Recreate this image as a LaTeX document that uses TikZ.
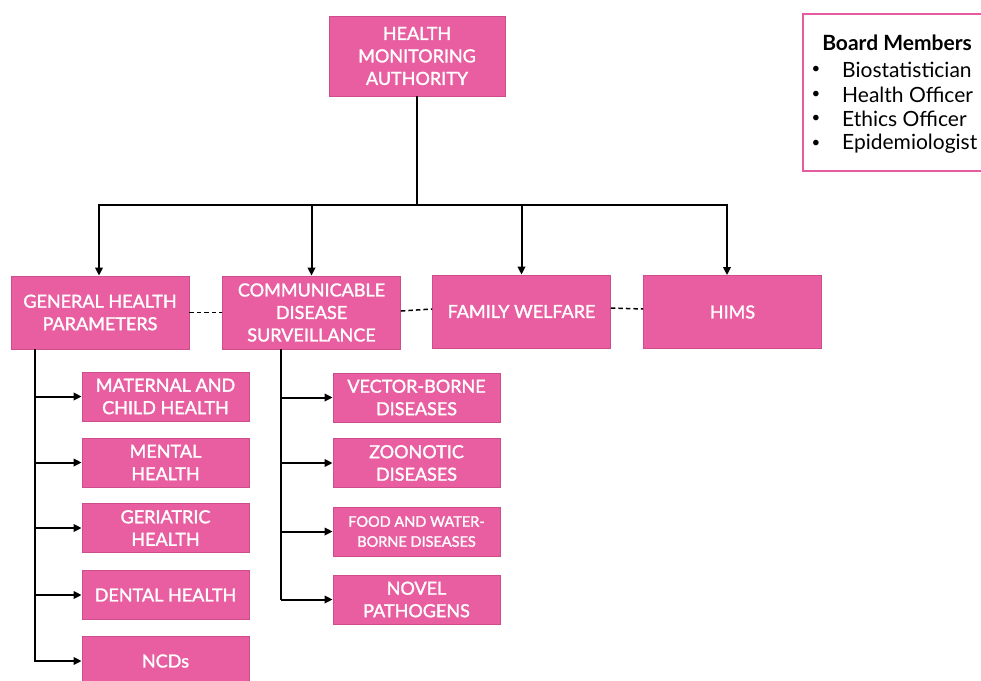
\documentclass[tikz,border=0pt]{standalone}
\usepackage{fontspec}
\setmainfont{Lato}
\newfontfamily\boxfont{Lato}[FakeBold=1.6]
\usetikzlibrary{arrows.meta,calc}
\definecolor{boxpink}{RGB}{232,94,160}
\definecolor{edgepink}{RGB}{205,78,138}
\definecolor{framepink}{RGB}{230,92,162}
\begin{document}
\begin{tikzpicture}[x=1pt,y=-1pt,
  unit/.style={draw=edgepink,line width=0.8pt,fill=boxpink,text=white,align=center,
    inner sep=0pt,font=\boxfont\fontsize{18}{22.5}\selectfont},
  topbox/.style={unit,minimum width=176pt,minimum height=80pt},
  mainbox/.style={unit,minimum width=178pt,minimum height=73pt},
  subbox/.style={unit,minimum width=167pt,minimum height=49pt},
  link/.style={line width=2pt,black},
  arr/.style={link,-{Triangle[length=8pt,width=7.5pt]}},
  peer/.style={black,line width=1.5pt,dash pattern=on 4.5pt off 3pt},
  item/.style={anchor=west,inner sep=0pt,font=\fontsize{21}{24}\selectfont}]
\useasboundingbox (0,0) rectangle (981,680);

% head of the hierarchy
\node[topbox] (hma) at (417,56) {HEALTH\\MONITORING\\AUTHORITY};

% board members panel
\draw[framepink,line width=2pt,fill=white] (803,14) rectangle (990,171);
\node[inner sep=0pt,font=\fontsize{21}{24}\bfseries\selectfont] (bmt) at (897,43) {Board Members};
\foreach \n/\y/\t in {b1/70/Biostatistician,b2/95/Health Officer,b3/119/Ethics Officer,b4/144/Epidemiologist}{
  \node[inner sep=0pt,font=\fontsize{15}{15}\selectfont] (\n dot) at (816,\y) {•};
  \node[item] (\n) at (842,\y) {\t};
}

% divisions
\node[mainbox] (ghp) at (100,312.5) {GENERAL HEALTH\\PARAMETERS};
\node[mainbox] (cds) at (311.5,312.5) {COMMUNICABLE\\DISEASE\\SURVEILLANCE};
\node[mainbox] (fw) at (521.5,311.5) {FAMILY WELFARE};
\node[mainbox] (hims) at (732.5,312) {HIMS};

% general health units
\node[subbox] (mch) at (165.5,396.5) {MATERNAL AND\\CHILD HEALTH};
\node[subbox] (mh) at (165.5,462.5) {MENTAL\\HEALTH};
\node[subbox] (gh) at (165.5,528) {GERIATRIC\\HEALTH};
\node[subbox] (dh) at (165.5,595) {DENTAL HEALTH};
\node[subbox] (ncd) at (165.5,661) {NCDs};

% disease surveillance units
\node[subbox] (vbd) at (416.5,397.5) {VECTOR-BORNE\\DISEASES};
\node[subbox] (zd) at (416.5,463) {ZOONOTIC\\DISEASES};
\node[subbox,font=\boxfont\fontsize{14.5}{20}\selectfont] (fwb) at (416.5,531.5) {FOOD AND WATER-\\BORNE DISEASES};
\node[subbox] (np) at (416.5,599.5) {NOVEL\\PATHOGENS};

% distribution bar under the authority
\coordinate (bar) at (417,205);
\coordinate (barl) at (99,205);
\coordinate (barr) at (727,205);
\draw[link] (hma.south) -- (bar);
\draw[link,line cap=rect] (barl) -- (barr);
\draw[arr] (barl) -- (barl |- ghp.north);
\draw[arr] (bar -| cds.north) -- (cds.north);
\draw[arr] (bar -| fw.north) -- (fw.north);
\draw[arr] (barr) -- (barr |- hims.north);

% peer links between divisions
\draw[peer] (ghp.east) -- (cds.west);
\draw[peer] ([yshift=1.5pt]cds.east) -- ([yshift=2.5pt]fw.west);
\draw[peer] ([yshift=3.5pt]fw.east) -- ([yshift=3pt]hims.west);

% left spine
\coordinate (gsp) at (35,349);
\draw[link] (gsp) -- (35,662);
\foreach \c in {mch,mh,gh,dh,ncd}
  \draw[arr] (gsp |- \c.west) -- (\c.west);

% right spine
\coordinate (csp) at (281,349);
\draw[link] (csp) -- (281,600);
\foreach \c in {vbd,zd,fwb,np}
  \draw[arr] (csp |- \c.west) -- (\c.west);
\end{tikzpicture}
\end{document}
